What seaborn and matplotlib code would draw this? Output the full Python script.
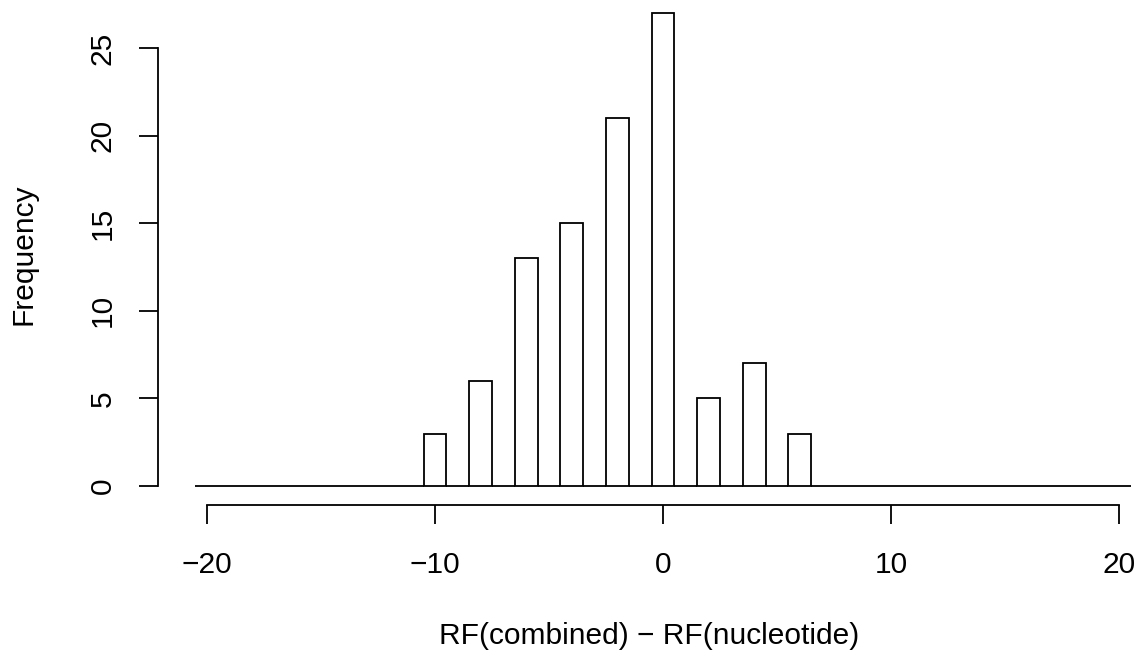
import numpy as np
import pandas as pd
import matplotlib
matplotlib.use('Agg')
import matplotlib.pyplot as plt
import seaborn as sns

# data: RF differences (even values only) and their frequencies
diffs = [-10, -8, -6, -4, -2, 0, 2, 4, 6]
counts = [3, 6, 13, 15, 21, 27, 5, 7, 3]
bin_edges = [b - 0.5 for b in range(-20, 22)]
xticks = [-20, -10, 0, 10, 20]
yticks = [0, 5, 10, 15, 20, 25]

# one row per observation
df = pd.DataFrame({'diff': np.repeat(diffs, counts)})

sns.set_style('white')
plt.rcParams['font.family'] = ['Liberation Sans', 'DejaVu Sans']

fig = plt.figure(figsize=(11.4, 6.56), dpi=100)
ax = fig.add_axes([158 / 1140, 151 / 656, 982 / 1140, (505 - 4.2) / 656])

sns.histplot(data=df, x='diff', bins=bin_edges, color='white',
             edgecolor='black', linewidth=1.3, alpha=1, ax=ax)

ax.set_xlim(-22.14, 20.91)
ax.set_ylim(-1.08, 27.5)

# R-style detached axes
for s in ['top', 'right']:
    ax.spines[s].set_visible(False)
ax.spines['left'].set_bounds(0, 25)
ax.spines['bottom'].set_bounds(-20, 20)
for s in ['left', 'bottom']:
    ax.spines[s].set_linewidth(1.3)
    ax.spines[s].set_color('black')

ax.set_xticks(xticks)
ax.set_xticklabels([str(t).replace('-', '\u2212') for t in xticks])
ax.set_yticks(yticks)
ax.set_yticklabels([str(t) for t in yticks], rotation=90, va='center')
ax.tick_params(axis='both', direction='out', length=13.7, width=1.3,
               colors='black', labelcolor='black', labelsize=21.5,
               bottom=True, left=True)
ax.tick_params(axis='x', pad=19.5)
ax.tick_params(axis='y', pad=16)

ax.set_xlabel('RF(combined) \u2212 RF(nucleotide)', fontsize=21.5,
              labelpad=31, color='black')
ax.set_ylabel('Frequency', fontsize=21.5, labelpad=37, color='black')

fig.savefig('out.png', dpi=100)
